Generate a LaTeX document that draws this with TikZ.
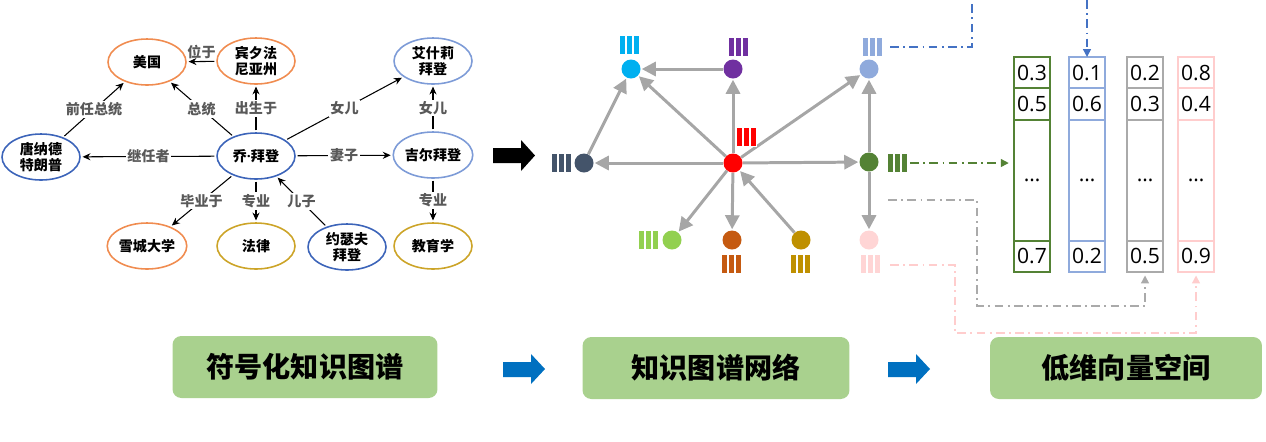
\documentclass[tikz,border=0pt]{standalone}
\usepackage{fontspec}
\setmainfont{Noto Sans CJK SC}
\newfontfamily\numfont{Open Sans}
\usetikzlibrary{arrows.meta,shapes.geometric}

\definecolor{eOrange}{RGB}{240,140,80}
\definecolor{eBlue}{RGB}{60,100,185}
\definecolor{eBlueL}{RGB}{125,155,215}
\definecolor{eGold}{RGB}{204,164,40}
\definecolor{labgray}{RGB}{89,89,89}
\definecolor{arrgray}{RGB}{166,166,166}
\definecolor{nCyan}{RGB}{0,176,240}
\definecolor{nPurple}{RGB}{112,48,160}
\definecolor{nLBlue}{RGB}{143,170,220}
\definecolor{nNavy}{RGB}{68,84,106}
\definecolor{nRed}{RGB}{255,0,0}
\definecolor{nGreen}{RGB}{84,130,53}
\definecolor{nLGreen}{RGB}{146,208,80}
\definecolor{nOrange}{RGB}{197,90,17}
\definecolor{nGold}{RGB}{191,144,0}
\definecolor{nPink}{RGB}{255,213,213}
\definecolor{dBlue}{RGB}{68,114,196}
\definecolor{vGray}{RGB}{170,170,170}
\definecolor{vPink}{RGB}{255,205,205}
\definecolor{stagegreen}{RGB}{169,209,142}
\definecolor{flowblue}{RGB}{0,112,192}

\tikzset{vecbars/.pic={
  \foreach \i in {-7,0,7}
    \filldraw[pic actions, draw=white, line width=0.2pt] (\i-3,-9.5) rectangle (\i+3,9.5);
}}

\begin{document}
\begin{tikzpicture}[x=0.02cm, y=-0.02cm,
  ent/.style={ellipse, draw, line width=0.9pt, minimum width=1.56cm, minimum height=0.92cm,
    inner sep=0pt, align=center, font=\fontsize{8}{9}\selectfont\bfseries},
  rel/.style={-{Stealth[length=4.5pt,width=4pt]}, line width=0.6pt, shorten >=1pt, shorten <=1pt},
  lab/.style={fill=white, inner sep=1pt, text=labgray, font=\fontsize{8}{9}\selectfont\bfseries},
  dot/.style={circle, minimum size=0.38cm, inner sep=0pt},
  link/.style={-{Triangle[length=8pt,width=8pt]}, draw=arrgray, line width=1.7pt, shorten >=0.5pt},
  dd/.style={dash pattern=on 5pt off 2.5pt on 1pt off 2.5pt, line width=0.8pt},
  cell/.style={draw, line width=1.1pt, minimum width=0.72cm, inner sep=0pt, outer sep=0pt, anchor=north,
    font=\numfont\fontsize{12}{12}\selectfont},
  stage/.style={fill=stagegreen, rounded corners=5pt, minimum height=1.24cm,
    font=\fontsize{16}{16}\selectfont\bfseries}
]
\useasboundingbox (0,0) rectangle (1266,441);

% symbolic knowledge graph
\node[ent, draw=eOrange] (us) at (147,62) {美国};
\node[ent, draw=eOrange] (pa) at (256,61) {宾夕法\\尼亚州};
\node[ent, draw=eBlueL] (ash) at (433,61) {艾什莉\\拜登};
\node[ent, draw=eBlue] (trump) at (41,157) {唐纳德\\特朗普};
\node[ent, draw=eBlue] (joe) at (256,156) {乔{\numfont\bfseries ·}拜登};
\node[ent, draw=eBlueL] (jill) at (433,155) {吉尔拜登};
\node[ent, draw=eOrange] (syr) at (147,246) {雪城大学};
\node[ent, draw=eGold] (law) at (256,246) {法律};
\node[ent, draw=eBlue] (jos) at (347,247) {约瑟夫\\拜登};
\node[ent, draw=eGold] (edu) at (433,246) {教育学};

\draw[rel] (pa) -- node[lab, above, fill=none] {位于} (us);
\draw[rel] (joe) -- node[lab] {总统} (us);
\draw[rel] (joe) -- node[lab] {出生于} (pa);
\draw[rel] (joe) -- node[lab] {女儿} (ash);
\draw[rel] (jill) -- node[lab] {女儿} (ash);
\draw[rel] (trump) -- node[lab] {前任总统} (us);
\draw[rel] (joe) -- node[lab] {继任者} (trump);
\draw[rel] (joe) -- node[lab] {妻子} (jill);
\draw[rel] (joe) -- node[lab] {毕业于} (syr);
\draw[rel] (joe) -- node[lab] {专业} (law);
\draw[rel] (jos) -- node[lab] {儿子} (joe);
\draw[rel] (jill) -- node[lab] {专业} (edu);

\fill[black] (493,148) -- (521,148) -- (521,140) -- (535,155.5) -- (521,171) -- (521,163) -- (493,163) -- cycle;

% knowledge graph network
\node[dot, fill=nCyan] (cy) at (631,69) {};
\node[dot, fill=nPurple] (pu) at (733,69) {};
\node[dot, fill=nLBlue] (lb) at (869,69) {};
\node[dot, fill=nNavy] (na) at (584,163) {};
\node[dot, fill=nRed] (rd) at (733,163) {};
\node[dot, fill=nGreen] (gr) at (869,162) {};
\node[dot, fill=nLGreen] (lg) at (672,240) {};
\node[dot, fill=nOrange] (or) at (732,240) {};
\node[dot, fill=nGold] (go) at (801,240) {};
\node[dot, fill=nPink] (pk) at (869,240) {};

\draw[link] (pu) -- (cy);
\draw[link] (na) -- (cy);
\draw[link] (rd) -- (cy);
\draw[link] (rd) -- (pu);
\draw[link] (rd) -- (lb);
\draw[link] (gr) -- (lb);
\draw[link] (rd) -- (na);
\draw[link] (rd) -- (gr);
\draw[link] (rd) -- (lg);
\draw[link] (rd) -- (or);
\draw[link] (go) -- (rd);
\draw[link] (gr) -- (pk);

\pic[fill=nCyan] at (629,45) {vecbars};
\pic[fill=nPurple] at (738,47) {vecbars};
\pic[fill=nLBlue] at (872,47) {vecbars};
\pic[fill=nRed] at (746,137) {vecbars};
\pic[fill=nNavy] at (561,163) {vecbars};
\pic[fill=nGreen] at (897,163) {vecbars};
\pic[fill=nLGreen] at (648,240) {vecbars};
\pic[fill=nOrange] at (731,264) {vecbars};
\pic[fill=nGold] at (800,264) {vecbars};
\pic[fill=nPink] at (870,264) {vecbars};

% low-dimensional vectors
\foreach \x/\c/\a/\b/\d/\n in {1032/nGreen/0.3/0.5/0.7/1, 1087/nLBlue/0.1/0.6/0.2/2,
    1145/vGray/0.2/0.3/0.5/3, 1196/vPink/0.8/0.4/0.9/4} {
  \node[cell, draw=\c, minimum height=0.62cm] (vt\n) at (\x,57) {\a};
  \node[cell, draw=\c, minimum height=0.64cm] (vs\n) at (vt\n.south) {\b};
  \node[cell, draw=\c, minimum height=2.42cm] (vm\n) at (vs\n.south) {\ldots};
  \node[cell, draw=\c, minimum height=0.62cm] (vb\n) at (vm\n.south) {\d};
}

\coordinate (lbout) at (890,47);
\coordinate (grout) at (910,163);
\coordinate (gyout) at (888,200);
\coordinate (pkout) at (890,265);

\draw[dd, draw=dBlue] (lbout) -| (972,0);
\draw[dd, draw=dBlue, -{Triangle[length=4.5pt,width=4.5pt]}] (vt2.north |- 0,0) -- (vt2.north);
\draw[dd, draw=nGreen, -{Triangle[length=4.5pt,width=4.5pt]}] (grout) -- ([xshift=-3pt]grout -| vm1.west);
\draw[dd, draw=vGray, -{Triangle[length=4.5pt,width=4.5pt]}] (gyout) -| (977,306) -| ([yshift=-2pt]vb3.south);
\draw[dd, draw=vPink, -{Triangle[length=4.5pt,width=4.5pt]}] (pkout) -| (955,333) -| ([yshift=-2pt]vb4.south);

% stages
\node[stage, minimum width=5.3cm] (s1) at (305,367) {符号化知识图谱};
\node[stage, minimum width=5.34cm] (s2) at (716,368) {知识图谱网络};
\node[stage, minimum width=5.44cm] (s3) at (1126,368) {低维向量空间};

\fill[flowblue] (503,362) -- (531,362) -- (531,354) -- (545,369) -- (531,384) -- (531,377) -- (503,377) -- cycle;
\fill[flowblue] (888,362) -- (916,362) -- (916,354) -- (930,369) -- (916,384) -- (916,377) -- (888,377) -- cycle;
\end{tikzpicture}
\end{document}
